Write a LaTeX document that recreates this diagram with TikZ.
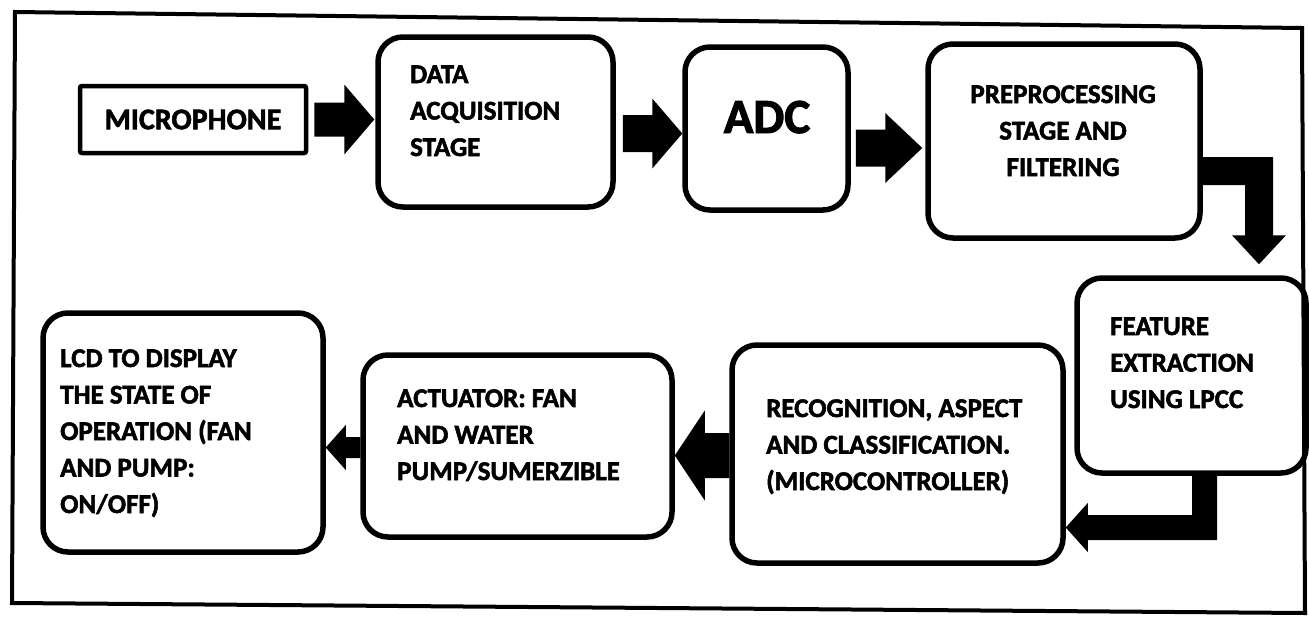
\documentclass[tikz,border=0pt]{standalone}
\usepackage{fontspec}
\setmainfont{Carlito}[BoldFeatures={FakeBold=2}]
\usetikzlibrary{calc}

% stacked text lines whose anchor sits on the first baseline
\newcommand\leftlines[1]{\begin{tabular}[t]{@{}l@{}}#1\end{tabular}}
\newcommand\midlines[1]{\begin{tabular}[t]{@{}c@{}}#1\end{tabular}}

% horizontal block arrow: #2 tail, #3 tip, #4 shaft half-width, #5 head half-width, #6 head length
\newcommand\blockarrow[6][]{%
  \fill[black,#1] let \p1=(#2), \p2=(#3), \n1={sign(\x2-\x1)} in
    (\x1,\y1+#4) -- ({\x2-\n1*#6},\y1+#4) -- ({\x2-\n1*#6},\y1+#5) -- (\x2,\y1)
    -- ({\x2-\n1*#6},\y1-#5) -- ({\x2-\n1*#6},\y1-#4) -- (\x1,\y1-#4) -- cycle;}

\begin{document}
\begin{tikzpicture}[x=1pt,y=-1pt,
  blk/.style={draw, line width=5.5pt, rounded corners=25pt, inner sep=0pt},
  txt/.style={inner sep=0pt, font=\fontsize{27}{36.5}\selectfont\bfseries, anchor=base west}]

\fill[white] (0,0) rectangle (1309,619);
\useasboundingbox (0,0) rectangle (1309,619);

% outer frame
\draw[line width=4pt, line join=miter] (15,12) -- (1302,28) -- (1305,613) -- (12,603) -- cycle;

% stages
\node[blk, rounded corners=2pt, line width=4.5pt, minimum width=226pt, minimum height=67pt] (mic) at (193,119.5) {};
\node[blk, minimum width=235pt, minimum height=170pt] (data)  at (495.5,122) {};
\node[blk, minimum width=163pt, minimum height=163pt] (adc)   at (766.5,128.5) {};
\node[blk, minimum width=272pt, minimum height=194pt] (prep)  at (1064,141) {};
\node[blk, minimum width=229pt, minimum height=195pt] (feat)  at (1191.5,375.5) {};
\node[blk, minimum width=331pt, minimum height=218pt] (recog) at (897.5,454) {};
\node[blk, minimum width=309pt, minimum height=182pt] (act)   at (517.5,446) {};
\node[blk, minimum width=280pt, minimum height=239pt] (lcd)   at (183,432.5) {};

% stage captions
\node[inner sep=0pt, font=\fontsize{30}{36}\selectfont\bfseries] (micT) at (mic) {MICROPHONE};
\node[txt] (dataT) at (410,83) {\leftlines{DATA\\ACQUISITION\\STAGE}};
\node[inner sep=0pt, font=\fontsize{49}{52}\selectfont\bfseries, anchor=base] (adcT) at (767,133) {ADC};
\node[txt, anchor=base] (prepT) at (1063,103) {\midlines{PREPROCESSING\\STAGE AND\\FILTERING}};
\node[txt] (featT) at (1110,335) {\leftlines{FEATURE\\EXTRACTION\\USING LPCC}};
\node[txt] (recogT) at (766,417) {\leftlines{RECOGNITION, ASPECT\\AND CLASSIFICATION.\\(MICROCONTROLLER)}};
\node[txt] (actT) at (397,407) {\leftlines{ACTUATOR: FAN\\AND WATER\\PUMP/SUMERZIBLE}};
\node[txt] (lcdT) at (60,367) {\leftlines{LCD TO DISPLAY\\THE STATE OF\\OPERATION (FAN\\AND PUMP:\\ON/OFF)}};

% block arrows along the chain
\blockarrow{[xshift=6pt]mic.east}{[xshift=-1pt]data.west}{17pt}{35pt}{30pt}
\blockarrow{[xshift=7pt,yshift=-11.5pt]data.east}{adc.west}{18.5pt}{35pt}{30pt}
\blockarrow{[xshift=5pt,yshift=-19.5pt]adc.east}{[xshift=-3pt]prep.west}{18.5pt}{35pt}{37pt}

% elbow: preprocessing -> feature extraction
\fill[black] let \p1=([yshift=-30pt]prep.east), \p2=([xshift=67.5pt,yshift=11pt]feat.north) in
  (\x1,\y1+14pt) -- (\x2+14pt,\y1+14pt) -- (\x2+14pt,\y2+29pt) -- (\x2+27pt,\y2+29pt)
  -- (\x2,\y2) -- (\x2-27pt,\y2+29pt) -- (\x2-14pt,\y2+29pt) -- (\x2-14pt,\y1-14pt)
  -- (\x1,\y1-14pt) -- cycle;

% elbow: feature extraction -> recognition
\fill[black] let \p1=([xshift=13pt]feat.south), \p2=([yshift=-73.5pt]recog.east) in
  (\x1-12.5pt,\y1) -- (\x1+12.5pt,\y1) -- (\x1+12.5pt,\y2-12.5pt) -- (\x2+22pt,\y2-12.5pt)
  -- (\x2+22pt,\y2-24.5pt) -- (\x2,\y2) -- (\x2+22pt,\y2+24.5pt) -- (\x2+22pt,\y2+12.5pt)
  -- (\x1-12.5pt,\y2+12.5pt) -- cycle;

\blockarrow{[yshift=-1.5pt]recog.west}{act.east}{22.5pt}{45pt}{30pt}
\blockarrow{[yshift=-1.5pt]act.west}{lcd.east}{10.5pt}{22.5pt}{20pt}

\end{tikzpicture}
\end{document}
